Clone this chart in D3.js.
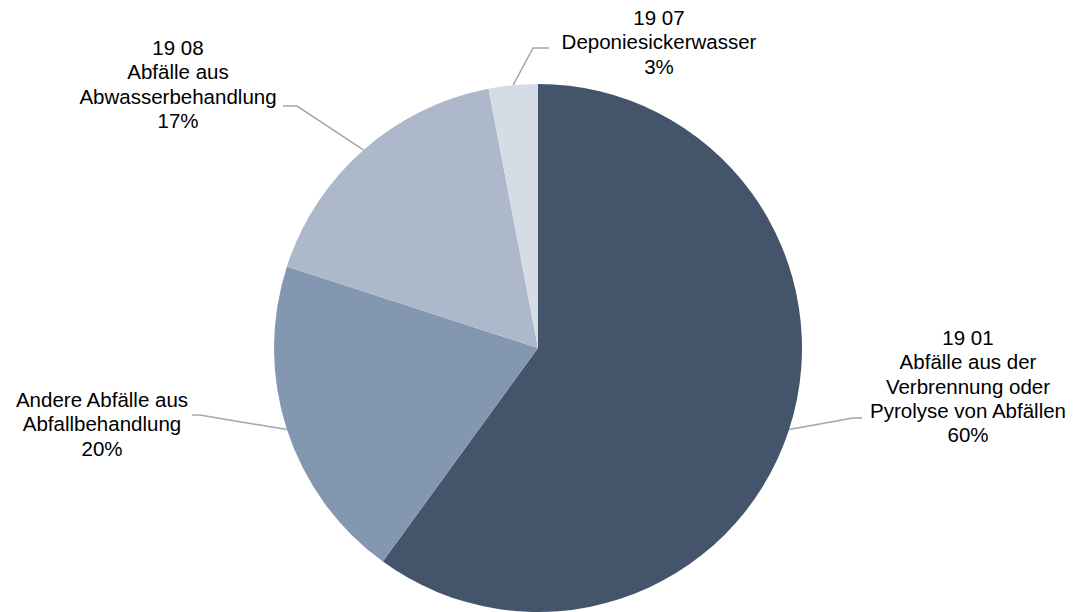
<!DOCTYPE html>
<html>
<head>
<meta charset="utf-8">
<script src="https://cdn.jsdelivr.net/npm/d3@7"></script>
<style>
  body { margin: 0; background: #fff; }
  text { font-family: "Liberation Sans", Arial, sans-serif; font-size: 20.5px; fill: #000; }
</style>
</head>
<body>
<div class="chart"></div>
<script>
var svgWidth = 1078;
var svgHeight = 612;

// data
var categories = [
  ["19 01", "Abfälle aus der", "Verbrennung oder", "Pyrolyse von Abfällen"],
  ["Andere Abfälle aus", "Abfallbehandlung"],
  ["19 08", "Abfälle aus", "Abwasserbehandlung"],
  ["19 07", "Deponiesickerwasser"]
];
var shares = [60, 20, 17, 3];
var colors = ["#44546a", "#8497b0", "#adb9ca", "#d6dce5"];

// label layout: text centre x, first baseline y, elbow point, line end
var labelPos = [
  { x: 968, y: 345, elbow: [853, 418], end: [862, 418] },
  { x: 102, y: 407, elbow: [200, 415], end: [192, 415] },
  { x: 178, y: 55, elbow: [297, 106], end: [283, 106] },
  { x: 659, y: 25, elbow: [533, 48], end: [549, 48] }
];

var cx = 538, cy = 348, radius = 264;
var lineH = 24.3;

var svg = d3.select(".chart")
  .append("svg")
  .attr("width", svgWidth)
  .attr("height", svgHeight);

var chartGroup = svg.append("g")
  .attr("transform", `translate(${cx}, ${cy})`);

var pie = d3.pie().sort(null).value(d => d);
var arcs = pie(shares);

var arc = d3.arc().innerRadius(0).outerRadius(radius);

chartGroup.selectAll("path.slice")
  .data(arcs)
  .enter()
  .append("path")
  .attr("class", "slice")
  .attr("d", arc)
  .attr("fill", (d, i) => colors[i]);

// leader lines
svg.selectAll("polyline.leader")
  .data(arcs)
  .enter()
  .append("polyline")
  .attr("class", "leader")
  .attr("points", function(d, i) {
    var a = (d.startAngle + d.endAngle) / 2;
    var sx = cx + radius * Math.sin(a);
    var sy = cy - radius * Math.cos(a);
    var p = labelPos[i];
    return [[sx, sy], p.elbow, p.end].map(q => q.join(",")).join(" ");
  })
  .attr("fill", "none")
  .attr("stroke", "#a6a6a6")
  .attr("stroke-width", 1.5);

// labels
var labels = svg.selectAll("text.label")
  .data(arcs)
  .enter()
  .append("text")
  .attr("class", "label")
  .attr("text-anchor", "middle");

labels.each(function(d, i) {
  var t = d3.select(this);
  var lines = categories[i].concat([shares[i] + "%"]);
  lines.forEach(function(l, j) {
    t.append("tspan")
      .attr("x", labelPos[i].x)
      .attr("y", labelPos[i].y + j * lineH)
      .text(l);
  });
});
</script>
</body>
</html>
